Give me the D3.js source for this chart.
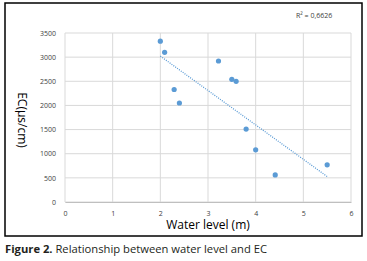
<!DOCTYPE html>
<html>
<head>
<meta charset="UTF-8">
<style>
  body { margin: 0; background: #fff; }
  text { font-family: "Open Sans", "Liberation Sans", sans-serif; }
</style>
</head>
<body>
<script src="https://cdn.jsdelivr.net/npm/d3@7/dist/d3.min.js"></script>
<script>
var waterLevel = [2.0, 2.09, 2.29, 2.40, 3.22, 3.50, 3.59, 3.80, 4.0, 4.41, 5.50];
var ecValues   = [3330, 3100, 2330, 2050, 2920, 2540, 2500, 1510, 1080, 560, 770];
var xTicks = [0, 1, 2, 3, 4, 5, 6];
var yTicks = [0, 500, 1000, 1500, 2000, 2500, 3000, 3500];
var r2Label = "R\u00b2 = 0,6626";

var width = 367, height = 261;
var plot = {left: 65, right: 351, top: 33, bottom: 202};

var svg = d3.select("body").append("svg")
    .attr("width", width)
    .attr("height", height);

// chart frame
svg.append("rect")
    .attr("x", 5).attr("y", 3)
    .attr("width", 357).attr("height", 233)
    .attr("fill", "#fff")
    .attr("stroke", "#000")
    .attr("stroke-width", 1.5);

var x = d3.scaleLinear().domain([0, 6]).range([plot.left, plot.right]);
var y = d3.scaleLinear().domain([0, 3500]).range([plot.bottom, plot.top]);

// grid
svg.append("g").selectAll("line").data(yTicks).join("line")
    .attr("x1", plot.left).attr("x2", plot.right)
    .attr("y1", d => y(d)).attr("y2", d => y(d))
    .attr("stroke", "#d9d9d9").attr("stroke-width", 1);
svg.append("g").selectAll("line").data(xTicks).join("line")
    .attr("x1", d => x(d)).attr("x2", d => x(d))
    .attr("y1", plot.top).attr("y2", plot.bottom)
    .attr("stroke", "#d9d9d9").attr("stroke-width", 1);

// axes
var xAxis = d3.axisBottom(x).tickValues(xTicks).tickFormat(d3.format("d")).tickSize(0).tickPadding(9);
var yAxis = d3.axisLeft(y).tickValues(yTicks).tickFormat(d3.format("d")).tickSize(0).tickPadding(9);

var gx = svg.append("g").attr("transform", "translate(0," + plot.bottom + ")").call(xAxis);
var gy = svg.append("g").attr("transform", "translate(" + plot.left + ",0)").call(yAxis);
gx.select(".domain").attr("stroke", "#bfbfbf");
gy.select(".domain").remove();
svg.selectAll(".tick text").attr("font-size", 7).attr("fill", "#404040")
    .style("font-family", "'Open Sans', sans-serif");

// trend line (least squares)
var mx = d3.mean(waterLevel), my = d3.mean(ecValues);
var sxy = d3.sum(waterLevel, (d, i) => (d - mx) * (ecValues[i] - my));
var sxx = d3.sum(waterLevel, d => (d - mx) * (d - mx));
var slope = sxy / sxx, intercept = my - slope * mx;
var x0 = d3.min(waterLevel), x1 = d3.max(waterLevel);

svg.append("line")
    .attr("x1", x(x0)).attr("y1", y(intercept + slope * x0))
    .attr("x2", x(x1)).attr("y2", y(intercept + slope * x1))
    .attr("stroke", "#5b9bd5")
    .attr("stroke-width", 1.3)
    .attr("stroke-dasharray", "1,1.3");

// points
svg.append("g").selectAll("circle").data(waterLevel).join("circle")
    .attr("cx", d => x(d))
    .attr("cy", (d, i) => y(ecValues[i]))
    .attr("r", 2.6)
    .attr("fill", "#5b9bd5");

// r2
svg.append("text")
    .attr("x", 296).attr("y", 18)
    .attr("font-size", 7).attr("fill", "#404040")
    .text(r2Label);

// axis titles
svg.append("text")
    .attr("x", 208).attr("y", 229)
    .attr("text-anchor", "middle")
    .attr("font-size", 12).attr("fill", "#000")
    .text("Water level (m)");

svg.append("text")
    .attr("transform", "translate(18,120) rotate(90)")
    .attr("text-anchor", "middle")
    .attr("font-size", 12).attr("fill", "#000")
    .text("EC(\u03bcs/cm)");

// caption
var cap = svg.append("text")
    .attr("x", 5).attr("y", 253)
    .attr("font-size", 10.5).attr("fill", "#231f20")
    .attr("textLength", 262).attr("lengthAdjust", "spacingAndGlyphs");
cap.append("tspan").attr("font-weight", "bold").text("Figure 2.");
cap.append("tspan").text(" Relationship between water level and EC");
</script>
</body>
</html>
